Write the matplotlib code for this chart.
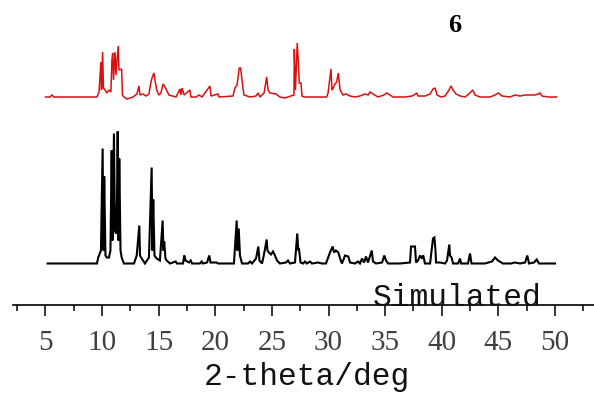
import numpy as np
import matplotlib
matplotlib.use("Agg")
import matplotlib.pyplot as plt
from matplotlib.ticker import MultipleLocator

# measured pattern of sample 6 (2-theta in deg, intensity in a.u.)
exp_2theta = [5.0, 5.40, 5.57, 5.75, 9.55, 9.73, 9.90, 9.95, 10.05, 10.12, 10.26, 10.43,
              10.61, 10.78, 10.87, 10.94, 11.01, 11.14, 11.23, 11.32, 11.43, 11.49, 11.73,
              11.80, 11.93, 12.20, 12.73, 13.08, 13.26, 13.35, 13.61, 13.88, 14.14, 14.32,
              14.41, 14.58, 14.67, 14.85, 15.03, 15.20, 15.38, 15.56, 15.73, 15.91, 16.53,
              16.88, 16.97, 17.06, 17.24, 17.76, 17.85, 18.30, 18.56, 18.83, 19.53, 19.62,
              20.24, 20.33, 21.56, 21.74, 21.92, 22.12, 22.24, 22.36, 22.42, 22.54, 23.07,
              23.60, 23.78, 23.95, 24.31, 24.54, 24.66, 24.83, 25.36, 25.71, 26.15, 26.68,
              26.95, 26.98, 27.08, 27.24, 27.35, 27.42, 27.57, 27.66, 27.84, 29.84, 29.96,
              30.22, 30.31, 30.42, 30.57, 30.72, 30.87, 30.97, 31.02, 31.28, 31.55, 31.90,
              32.34, 32.78, 33.23, 33.49, 33.67, 33.93, 34.37, 34.90, 35.14, 35.43, 35.70,
              36.76, 37.37, 37.55, 37.79, 37.91, 38.53, 38.97, 39.23, 39.41, 39.59, 39.94,
              40.30, 40.64, 40.82, 41.00, 41.26, 41.62, 42.06, 42.50, 42.74, 42.94, 43.38,
              44.27, 44.71, 45.00, 45.33, 46.03, 46.48, 46.92, 47.36, 47.80, 48.24, 48.51,
              48.68, 48.86, 49.39, 50.15]
exp_int = [0, 0, 2, 0, 0, 5, 35, 7, 45, 9, 7, 4,
           7, 5, 37, 44, 17, 45, 22, 37, 51, 27, 28,
           2, 0, -2, 0, 3, 11, 2, 3, 1, 3, 15,
           19, 24, 17, 6, 2, 4, 13, 10, 6, 2, 0,
           8, 2, 9, 2, 7, 0, 0, 2, 0, 11, 1,
           3, 0, 1, 9, 12, 29, 29, 17, 11, 2, 0,
           1, 4, 0, 4, 20, 7, 4, 3, 0, -1, 1,
           2, 48, 7, 54, 32, 14, 14, 1, 0, 0, 4,
           28, 7, 9, 13, 15, 24, 12, 7, 2, 3, 1,
           0, 1, 3, 2, 5, 3, 0, 2, 4, 2, 0,
           0, 1, 2, 4, 1, 1, 3, 8, 9, 2, 0,
           1, 7, 11, 7, 3, 1, 0, 4, 7, 2, 0,
           0, 2, 4, 1, 0, 2, 1, 2, 2, 2, 3,
           4, 1, 0, 0]

# simulated pattern from the single-crystal structure
sim_2theta = [5.19, 9.55, 9.66, 9.90, 10.05, 10.12, 10.19, 10.30, 10.41, 10.61, 10.74,
              10.85, 10.92, 11.05, 11.14, 11.23, 11.32, 11.38, 11.45, 11.52, 11.63, 11.73,
              11.93, 12.82, 13.06, 13.29, 13.35, 13.50, 13.79, 14.14, 14.38, 14.45, 14.52,
              14.63, 14.82, 15.11, 15.35, 15.42, 15.49, 15.60, 15.71, 16.00, 16.50, 16.62,
              17.15, 17.26, 17.37, 17.68, 17.83, 17.94, 18.65, 18.80, 18.91, 19.27, 19.47,
              19.58, 20.12, 20.24, 21.65, 21.89, 21.96, 22.07, 22.18, 22.36, 22.89, 23.07,
              23.24, 23.60, 23.80, 23.90, 24.13, 24.30, 24.54, 24.61, 24.74, 24.92, 25.10,
              25.27, 25.45, 25.71, 26.25, 26.42, 26.60, 27.04, 27.24, 27.33, 27.39, 27.53,
              27.77, 27.92, 28.10, 28.37, 28.54, 29.07, 29.43, 29.78, 30.13, 30.37, 30.49,
              30.66, 30.87, 31.02, 31.19, 31.46, 31.75, 31.90, 32.34, 32.61, 32.78, 32.96,
              33.14, 33.31, 33.49, 33.82, 33.93, 34.20, 34.73, 34.93, 35.08, 35.26, 36.32,
              37.20, 37.29, 37.64, 37.73, 37.91, 38.08, 38.26, 38.37, 38.52, 38.97, 39.23,
              39.35, 39.45, 39.50, 39.85, 40.29, 40.47, 40.67, 40.73, 40.87, 41.00, 41.44,
              41.62, 41.71, 42.32, 42.50, 42.63, 43.82, 44.44, 44.71, 44.97, 45.41, 46.12,
              46.47, 46.92, 47.36, 47.56, 47.71, 48.15, 48.39, 48.59, 50.01]
sim_int = [0, 0, 6, 13, 115, 13, 87, 8, 6, 6, 13,
           113, 23, 130, 33, 30, 63, 132, 23, 105, 13, 6,
           0, 0, 8, 38, 8, 5, 0, 6, 96, 13, 64,
           8, 5, 3, 43, 13, 22, 5, 3, 0, 2, 0,
           0, 8, 3, 1, 3, 0, 0, 2, 0, 1, 8,
           1, 1, 0, 0, 43, 13, 35, 8, 0, 0, 2,
           0, 5, 17, 3, 0, 9, 24, 13, 11, 9, 12,
           8, 3, 0, 1, 3, 0, 1, 30, 13, 15, 1,
           0, 2, 0, 2, 0, 1, 0, 0, 11, 17, 11,
           13, 11, 5, 0, 8, 7, 1, 0, 2, 0, 5,
           1, 7, 1, 13, 2, 0, 1, 8, 3, 0, 0,
           1, 17, 17, 1, 3, 8, 5, 8, 0, 0, 25,
           26, 13, 1, 1, 0, 3, 19, 8, 6, 0, 0,
           5, 0, 0, 10, 0, 0, 2, 6, 3, 0, 0,
           1, 0, 1, 8, 0, 1, 4, 0, 0]

offset = 166.5  # vertical shift of the measured curve

fig = plt.figure(figsize=(5.94, 3.98), dpi=100)
ax = fig.add_axes([13.3 / 594, 93 / 398, 1 - 13.3 / 594, 305 / 398])

ax.plot(sim_2theta, sim_int, color='black', lw=1.5, solid_joinstyle='miter')
ax.plot(exp_2theta, np.array(exp_int) + offset, color='#d81010', lw=1.1,
        solid_joinstyle='miter')

ax.set_xlim(2.16, 53.45)
ax.set_ylim(-41.5, 263.5)
for s in ['top', 'right', 'left']:
    ax.spines[s].set_visible(False)
ax.spines['bottom'].set_linewidth(1.2)
ax.set_yticks([])
ax.xaxis.set_major_locator(MultipleLocator(5))
ax.xaxis.set_minor_locator(MultipleLocator(2.5))
ax.set_xticks([5, 10, 15, 20, 25, 30, 35, 40, 45, 50])
ax.tick_params(axis='x', which='major', direction='out', length=8, width=1.1,
               pad=10, labelsize=21, labelcolor='#404040')
ax.tick_params(axis='x', which='minor', direction='out', length=4, width=1.1)
for lab in ax.get_xticklabels():
    lab.set_family('Liberation Serif')
ax.patch.set_alpha(0)

fig.text(373 / 594, (398 - 306) / 398, 'Simulated', family='Liberation Mono',
         fontsize=22.5, ha='left', va='baseline', color='#111111')
fig.text(307 / 594, (398 - 377) / 398, '2-theta/deg', family='Liberation Mono',
         fontsize=22.5, ha='center', va='center', color='#111111')
fig.text(455 / 594, (398 - 26) / 398, '6', family='Liberation Serif',
         fontweight='bold', fontsize=19, ha='center', va='center')

fig.savefig('out.png', dpi=100)
